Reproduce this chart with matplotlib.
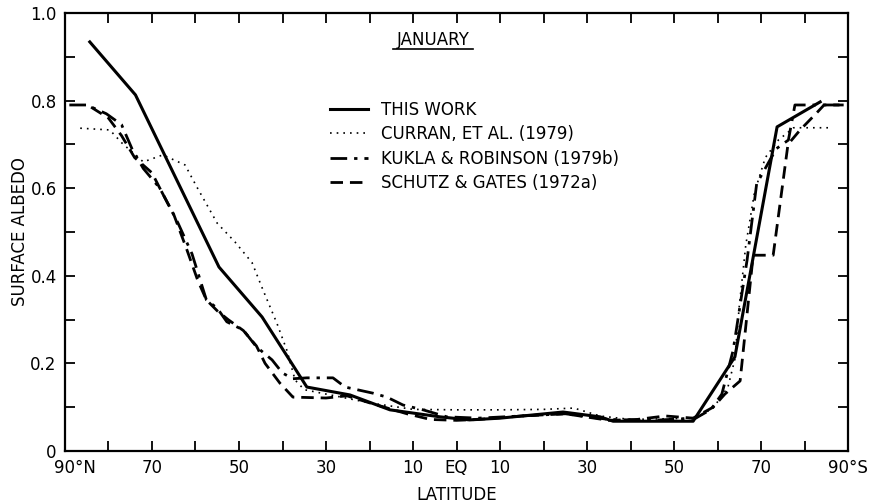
import matplotlib.pyplot as plt
import matplotlib.transforms as mtransforms
import numpy as np

# surface albedo vs latitude, January (north positive)
this_work_lat = [84.3, 73.8, 54.6, 44.7, 34.4, 24.5, 15.3, 3.8, -3, -10, -24.5, -33, -36, -54.4, -64, -73.7, -83.6]
this_work = [0.934, 0.813, 0.42, 0.306, 0.146, 0.128, 0.094, 0.078, 0.071, 0.075, 0.089, 0.078, 0.068, 0.068, 0.215, 0.74, 0.797]

curran_lat = [86.5, 79.7, 76.9, 72, 67.5, 62.4, 59.7, 55, 50.9, 47, 44.5, 41.3, 39, 37.1, 35, 30, 25, 20, 10, 0,
              -10, -20, -27, -33, -40, -55, -59, -62.4, -64, -65, -66.5, -68.5, -71, -74, -77.5, -86.5]
curran = [0.737, 0.733, 0.703, 0.66, 0.676, 0.653, 0.603, 0.52, 0.477, 0.43, 0.368, 0.292, 0.23, 0.162, 0.14, 0.13,
          0.12, 0.11, 0.095, 0.094, 0.094, 0.095, 0.098, 0.08, 0.072, 0.075, 0.098, 0.146, 0.21, 0.33, 0.47, 0.59,
          0.67, 0.71, 0.738, 0.738]

kukla_lat = [89, 85, 80.5, 77, 74.6, 72, 68.2, 64, 60.8, 57.5, 55, 52.8, 49, 46, 42.4, 40, 37.6, 34.4, 28.4, 25.6,
             19.2, 16, 12.3, 7.7, 2.2, -5, -15, -25, -35, -45, -55, -58.5, -61, -63.6, -66.8, -69, -73.5, -76.3,
             -77.8, -89]
kukla = [0.79, 0.79, 0.77, 0.745, 0.69, 0.645, 0.60, 0.52, 0.45, 0.345, 0.326, 0.295, 0.276, 0.238, 0.208, 0.178,
         0.165, 0.167, 0.167, 0.146, 0.132, 0.123, 0.105, 0.094, 0.078, 0.075, 0.08, 0.085, 0.072, 0.07, 0.075,
         0.095, 0.13, 0.23, 0.436, 0.61, 0.69, 0.71, 0.79, 0.79]

schutz_lat = [84, 80, 77, 74, 70, 68.2, 65, 62, 59.5, 57.5, 55, 52.5, 49, 46, 44, 40.6, 37.6, 30, 25.2, 20, 11.4, 6,
              0, -5, -15, -25, -35, -41.5, -48, -54.4, -59, -61.7, -65.2, -68.2, -72.8, -76.2, -79, -83, -84.5, -89]
schutz = [0.785, 0.76, 0.72, 0.67, 0.635, 0.60, 0.54, 0.46, 0.39, 0.345, 0.32, 0.30, 0.275, 0.24, 0.20, 0.155,
          0.123, 0.121, 0.126, 0.11, 0.085, 0.072, 0.07, 0.072, 0.08, 0.085, 0.07, 0.072, 0.08, 0.075, 0.10, 0.13,
          0.16, 0.447, 0.447, 0.70, 0.733, 0.774, 0.79, 0.79]

labels = ['THIS WORK', 'CURRAN, ET AL. (1979)', 'KUKLA & ROBINSON (1979b)', 'SCHUTZ & GATES (1972a)']

x_ticks = list(range(90, -91, -10))
x_ticklabels = {90: '90°N', 70: '70', 50: '50', 30: '30', 10: '10', 0: 'EQ',
                -10: '10', -30: '30', -50: '50', -70: '70', -90: '90°S'}
y_ticks = np.round(np.arange(0, 1.01, 0.1), 1)
y_ticklabels = {0.0: '0', 0.2: '0.2', 0.4: '0.4', 0.6: '0.6', 0.8: '0.8', 1.0: '1.0'}

plt.rcParams['font.family'] = ['DejaVu Sans']
fs = 12

fig = plt.figure(figsize=(8.74, 5.03), dpi=100)
ax = fig.add_axes([65 / 874, 52 / 503, 783 / 874, 438 / 503])

ax.plot(this_work_lat, this_work, color='black', lw=2.2, ls='-', label=labels[0])
ax.plot(curran_lat, curran, color='black', lw=1.2, ls=(0, (1, 3)), label=labels[1])
ax.plot(kukla_lat, kukla, color='black', lw=2.0, ls=(0, (6, 2.5, 1.2, 2.5)), label=labels[2])
ax.plot(schutz_lat, schutz, color='black', lw=2.0, ls=(0, (4.5, 2.5)), label=labels[3])

ax.set_xlim(90, -90)
ax.set_ylim(0, 1.0)

ax.set_xticks(x_ticks)
ax.set_xticklabels([x_ticklabels.get(t, '') for t in x_ticks], fontsize=fs)
ax.set_yticks(y_ticks)
ax.set_yticklabels([y_ticklabels.get(float(t), '') for t in y_ticks], fontsize=fs)
ax.tick_params(direction='in', length=7, width=1.3, top=True, right=True, pad=6)

# nudge the end label so it sits beside the corner
shift = mtransforms.ScaledTranslation(10 / 100, 0, fig.dpi_scale_trans)
xl = ax.get_xticklabels()
xl[0].set_transform(xl[0].get_transform() + shift)

for s in ax.spines.values():
    s.set_linewidth(1.6)

ax.set_xlabel('LATITUDE', fontsize=fs, labelpad=6)
ax.set_ylabel('SURFACE ALBEDO', fontsize=fs, labelpad=1)

ax.text(0.47, 0.938, 'JANUARY', transform=ax.transAxes, ha='center', va='center', fontsize=fs)
ax.plot([0.419, 0.521], [0.917, 0.917], transform=ax.transAxes, color='black', lw=1.2)

ax.legend(loc='upper left', bbox_to_anchor=(0.338, 0.80), frameon=False, fontsize=fs,
          handlelength=2.3, handletextpad=0.8, labelspacing=0.39, borderpad=0, borderaxespad=0)

fig.savefig('out.png', dpi=100)
